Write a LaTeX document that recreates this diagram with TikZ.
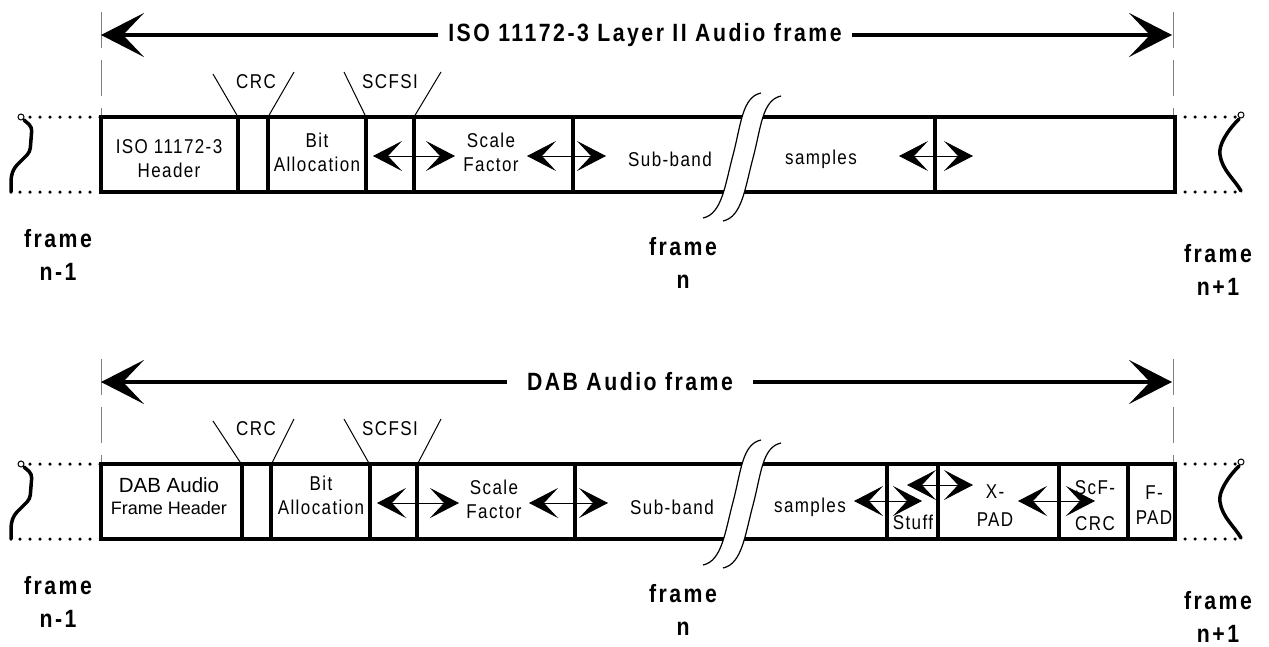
\documentclass[tikz,border=0pt]{standalone}
\usepackage{fontspec}
\setmainfont{Liberation Sans}
\newfontfamily\fieldfont{Liberation Sans}[FakeStretch=0.85,LetterSpace=7]
\newfontfamily\headfont{Liberation Sans}[FakeStretch=0.85,LetterSpace=10]
\usepackage{tikz}
\usetikzlibrary{arrows.meta}
\tikzset{
  outline/.style={line width=3.5pt},
  cellsep/.style={line width=3.5pt},
  dimline/.style={draw=gray, line width=1pt, dash pattern=on 36pt off 12pt},
  spanarrow/.style={line width=3.5pt, -{Stealth[length=43pt,width=44pt,inset=21pt]}},
  fieldarrow/.style={line width=0.8pt,
                     {Stealth[length=29pt,width=30pt,inset=14pt]}-{Stealth[length=29pt,width=30pt,inset=14pt]}},
  slant/.style={line width=1pt},
  dotrow/.style={line width=3.5pt, line cap=round, dash pattern=on 0pt off 10pt},
  squiggle/.style={line width=3.5pt, line cap=round, line join=round, rounded corners=4pt},
  breakline/.style={line width=1.2pt},
  field/.style={font=\fieldfont\fontsize{20}{24}\selectfont, align=center, inner sep=0pt},
  spantitle/.style={font=\headfont\bfseries\fontsize{25}{30}\selectfont, inner xsep=14pt},
  framelbl/.style={font=\headfont\bfseries\fontsize{25}{33}\selectfont, align=center}
}

\begin{document}
\begin{tikzpicture}[x=1pt, y=-1pt]
\useasboundingbox (0,0) rectangle (1269,646);

% cell borders of the two frames
\foreach \x [count=\i] in {238,268,366,414,573,935} {
  \coordinate (a\i) at (\x,117);
  \draw[cellsep] (a\i) -- (\x,192);
}
\foreach \x [count=\i] in {242,271,370,417,575,887,938,1059,1128} {
  \coordinate (b\i) at (\x,465);
  \draw[cellsep] (b\i) -- (\x,539);
}

% what both frames share
\foreach \row/\dy in {a/0, b/347} {
\begin{scope}[yshift=-\dy pt]
  \draw[dimline] (101,12) -- (101,117);
  \draw[dimline] (1173,12) -- (1173,117);
  \coordinate (tipL\row) at (101,35);
  \coordinate (tipR\row) at (1172,35);
  \draw[outline] (101,117) rectangle (1175,192);
  % neighbour frames
  \draw[dotrow] (30,117) -- (100,117);
  \draw[dotrow] (20,192) -- (100,192);
  \draw[dotrow] (1185,117) -- (1235,117);
  \draw[dotrow] (1185,192) -- (1235,192);
  \draw[line width=1pt] (21,117) circle[radius=3pt];
  \draw[squiggle] (24,120) -- (32,127) -- (30,152) -- (14,168) -- (11,177) -- (11,192);
  \draw[line width=1pt] (1241,115) circle[radius=3pt];
  \draw[squiggle, rounded corners=0pt] (1239,119) .. controls (1228,130) and (1218,145) .. (1220,155)
    .. controls (1222,170) and (1235,180) .. (1241,191);
  % break in the sub-band samples
  \fill[white] (761,93) .. controls (742,97) and (741,125) .. (733,155)
    .. controls (725,185) and (722,214) .. (703,218) -- (723,221)
    .. controls (742,217) and (745,188) .. (753,158)
    .. controls (761,128) and (762,100) .. (781,96) -- cycle;
  \draw[breakline] (761,93) .. controls (742,97) and (741,125) .. (733,155)
    .. controls (725,185) and (722,214) .. (703,218);
  \draw[breakline] (781,96) .. controls (762,100) and (761,128) .. (753,158)
    .. controls (745,188) and (742,217) .. (723,221);
  % CRC and SCFSI
  \node[field] (crc\row) at (256,82) {CRC};
  \node[field] (scfsi\row) at (390,82) {SCFSI};
  \draw[slant] (213,74) -- (\row1);
  \draw[slant] (294,72) -- (\row2);
  \draw[slant] (344,72) -- (\row3);
  \draw[slant] (441,72) -- (\row4);
  \node[framelbl] (prev\row) at (58,255) {frame\\n-1};
  \node[framelbl] (cur\row) at (683,263) {frame\\n};
  \node[framelbl] (next\row) at (1218,270) {frame\\n+1};
\end{scope}
}

% ISO frame
\node[spantitle, inner xsep=10pt] (spanA) at (645,35) {ISO 11172-3 Layer II Audio frame};
\draw[spanarrow] (spanA) -- (tipLa);
\draw[spanarrow] (spanA) -- (tipRa);
\node[field] (hdrA) at (169,159) {ISO 11172-3\\Header};
\node[field] (bitA) at (317,152) {Bit\\Allocation};
\node[field] (sfA) at (491,152) {Scale\\Factor};
\node[field] (sbA) at (670,159) {Sub-band};
\node[field] (smpA) at (821,159) {samples};

% DAB frame
\node[spantitle, inner xsep=20pt] (spanB) at (630,382) {DAB Audio frame};
\draw[spanarrow] (spanB) -- (tipLb);
\draw[spanarrow] (spanB) -- (tipRb);
\node[field, font=\rmfamily\fontsize{18}{22}\selectfont] (hdrB) at (169,496)
  {{\fontsize{20.5}{22}\selectfont DAB Audio}\\Frame Header};
\node[field] (bitB) at (321,495) {Bit\\Allocation};
\node[field] (sfB) at (494,499) {Scale\\Factor};
\node[field] (sbB) at (672,507) {Sub-band};
\node[field] (smpB) at (810,507) {samples};
\node[field] (stuffB) at (913,522) {Stuff};
\node[field, font=\fieldfont\fontsize{20}{28}\selectfont] (xpadB) at (995,506) {X-\\PAD};
\node[field, font=\fieldfont\fontsize{20}{36}\selectfont] (scfB) at (1095,506) {ScF-\\CRC};
\node[field, font=\fieldfont\fontsize{20}{25}\selectfont] (fpadB) at (1154,505) {F-\\PAD};

% variable field borders
\foreach \n/\l/\r/\y in {a1/373/455/156, a2/527/606/156, a3/899/973/156,
    b1/377/459/503, b2/529/608/503, b3/854/922/501, b4/907/973/485, b5/1018/1095/501} {
  \coordinate (arr\n-l) at (\l,\y);
  \coordinate (arr\n-r) at (\r,\y);
  \draw[fieldarrow] (arr\n-l) -- (arr\n-r);
}
\end{tikzpicture}
\end{document}
